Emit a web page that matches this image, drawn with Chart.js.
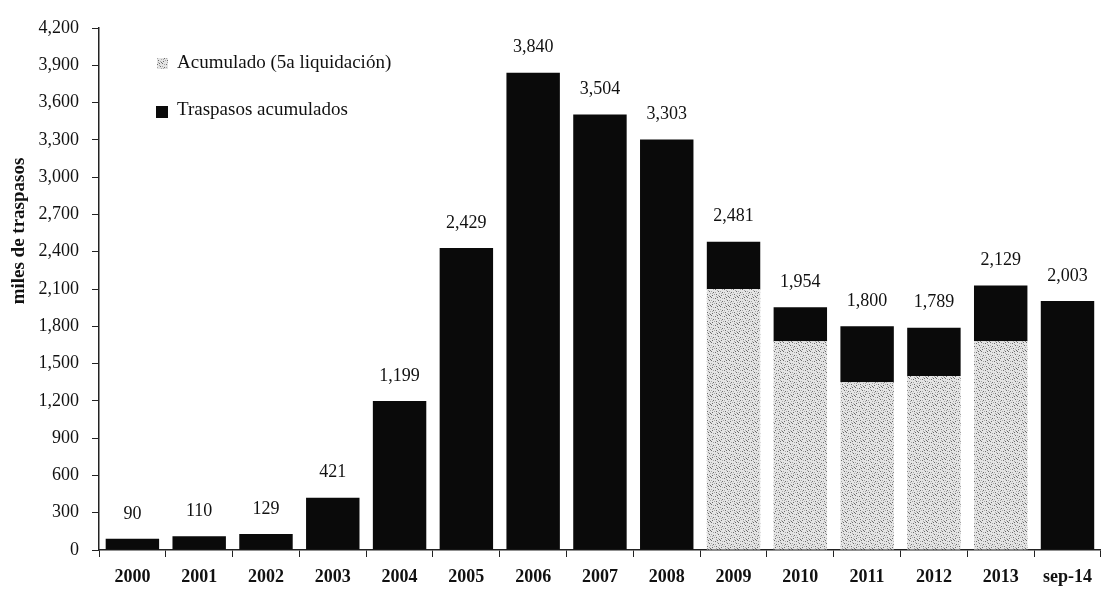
<!DOCTYPE html>
<html>
<head>
<meta charset="utf-8">
<script src="https://cdn.jsdelivr.net/npm/chart.js@4.4.1/dist/chart.umd.min.js"></script>
<style>
  html, body { margin: 0; padding: 0; background: #fff; }
  #wrap { width: 1102px; height: 598px; position: relative; }
</style>
</head>
<body>
<div id="wrap"><canvas id="chart"></canvas></div>
<script>
const categories = ['2000','2001','2002','2003','2004','2005','2006','2007','2008','2009','2010','2011','2012','2013','sep-14'];
const acumulado = [0, 0, 0, 0, 0, 0, 0, 0, 0, 2100, 1680, 1350, 1400, 1680, 0];
const traspasos = [90, 110, 129, 421, 1199, 2429, 3840, 3504, 3303, 381, 274, 450, 389, 449, 2003];
const totales = [90, 110, 129, 421, 1199, 2429, 3840, 3504, 3303, 2481, 1954, 1800, 1789, 2129, 2003];
const yTicks = [0, 300, 600, 900, 1200, 1500, 1800, 2100, 2400, 2700, 3000, 3300, 3600, 3900, 4200];

const serif = '"Liberation Serif", "DejaVu Serif", serif';

// stipple texture for the "acumulado" bars
function stipple() {
    const c = document.createElement('canvas');
    c.width = 9; c.height = 9;
    const g = c.getContext('2d');
    g.fillStyle = '#e4e4e4';
    g.fillRect(0, 0, 9, 9);
    g.fillStyle = '#6a6a6a';
    [[0,0],[4,1],[7,3],[2,4],[5,6],[1,7],[8,8],[6,0]].forEach(d => g.fillRect(d[0], d[1], 1, 1));
    g.fillStyle = '#a8a8a8';
    [[2,1],[6,2],[0,3],[4,4],[8,5],[3,6],[7,7],[1,5],[5,8]].forEach(d => g.fillRect(d[0], d[1], 1, 1));
    return g.createPattern(c, 'repeat');
}

const chart = document.querySelector('#chart').getContext('2d');
const stipplePattern = stipple();

const extras = {
    id: 'extras',
    afterDatasetsDraw(ch) {
        const ctx = ch.ctx;
        const top = ch.getDatasetMeta(1).data;
        ctx.save();
        ctx.fillStyle = '#111';
        ctx.font = '18px ' + serif;
        ctx.textAlign = 'center';
        ctx.textBaseline = 'middle';
        top.forEach((bar, i) => {
            ctx.fillText(totales[i].toLocaleString('en-US'), bar.x, bar.y - 25);
        });

        // legend
        ctx.textAlign = 'left';
        ctx.font = '19px ' + serif;
        ctx.fillStyle = stipplePattern;
        ctx.fillRect(157, 58, 11, 11);
        ctx.fillStyle = '#0a0a0a';
        ctx.fillRect(156, 106, 12, 12);
        ctx.fillStyle = '#111';
        ctx.fillText('Acumulado (5a liquidación)', 177, 63);
        ctx.fillText('Traspasos acumulados', 177, 110);

        // y axis title
        ctx.translate(19, 231);
        ctx.rotate(-Math.PI / 2);
        ctx.textAlign = 'center';
        ctx.font = 'bold 19px ' + serif;
        ctx.fillText('miles de traspasos', 0, 0);
        ctx.restore();
    }
};

new Chart(chart, {
    type: 'bar',
    data: {
        labels: categories,
        datasets: [
            {
                label: 'Acumulado (5a liquidación)',
                data: acumulado,
                backgroundColor: stipplePattern,
                barPercentage: 0.8,
                categoryPercentage: 1
            },
            {
                label: 'Traspasos acumulados',
                data: traspasos,
                backgroundColor: '#0a0a0a',
                barPercentage: 0.8,
                categoryPercentage: 1
            }
        ]
    },
    options: {
        responsive: true,
        maintainAspectRatio: false,
        animation: false,
        layout: { padding: { top: 28, left: 0, right: 0, bottom: 0 } },
        plugins: {
            legend: { display: false },
            tooltip: { enabled: false }
        },
        scales: {
            x: {
                stacked: true,
                grid: { display: true, drawOnChartArea: false, tickLength: 7, color: '#222', offset: true },
                border: { display: true, color: '#222', width: 1.5 },
                ticks: {
                    color: '#111',
                    font: { family: serif, size: 18, weight: 'bold' },
                    padding: 10,
                    maxRotation: 0,
                    autoSkip: false
                },
                afterFit(scale) { scale.height = 48; }
            },
            y: {
                stacked: true,
                min: 0,
                max: 4200,
                afterBuildTicks(scale) { scale.ticks = yTicks.map(v => ({ value: v })); },
                grid: { display: true, drawOnChartArea: false, tickLength: 7, color: '#222' },
                border: { display: true, color: '#222', width: 1.5 },
                ticks: {
                    color: '#111',
                    font: { family: serif, size: 18 },
                    padding: 13,
                    callback: v => v.toLocaleString('en-US')
                },
                afterFit(scale) { scale.width = 99; }
            }
        }
    },
    plugins: [extras]
});
</script>
</body>
</html>
